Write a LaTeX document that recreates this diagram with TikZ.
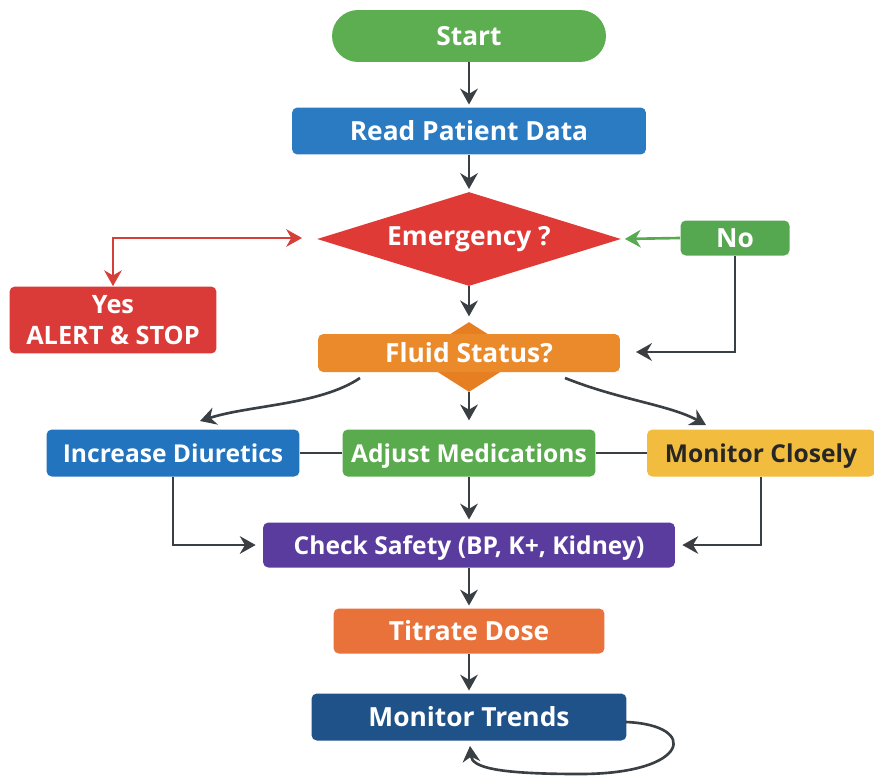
\documentclass[tikz,border=0pt]{standalone}
\usepackage{fontspec}
\setmainfont{Open Sans}
\usetikzlibrary{shapes.geometric,arrows.meta}

\definecolor{cstart}{RGB}{92,174,80}
\definecolor{cread}{RGB}{43,123,195}
\definecolor{cemerg}{RGB}{224,58,54}
\definecolor{cyes}{RGB}{219,59,56}
\definecolor{cno}{RGB}{86,168,80}
\definecolor{cfluid}{RGB}{235,138,42}
\definecolor{cfluidd}{RGB}{230,126,34}
\definecolor{cdiur}{RGB}{35,116,190}
\definecolor{cadjust}{RGB}{90,171,78}
\definecolor{cclose}{RGB}{242,188,62}
\definecolor{ccheck}{RGB}{90,60,158}
\definecolor{ctitr}{RGB}{233,113,58}
\definecolor{ctrend}{RGB}{30,82,137}
\definecolor{cline}{RGB}{58,63,68}
\definecolor{cred}{RGB}{214,62,56}
\definecolor{cgreen}{RGB}{88,170,80}

\tikzset{
  boxbase/.style={rectangle, rounded corners=3pt, text=white, inner sep=0pt,
    font=\bfseries\fontsize{15}{18}\selectfont, minimum height=0.94cm},
  box/.style={boxbase, text height=10.8pt, text depth=0.4pt},
  small/.style={font=\bfseries\fontsize{14}{17}\selectfont},
  arr/.style={-{Stealth[length=9pt,width=10pt]}, line width=1.5pt, draw=cline,
    shorten >=1.5pt},
  link/.style={line width=1.5pt, draw=cline}
}

\begin{document}
\begin{tikzpicture}[x=0.02cm,y=-0.02cm]
  \useasboundingbox (0,0) rectangle (874,777);

  \node (start)   [box, fill=cstart, rounded corners=0.52cm, minimum width=5.48cm,
                   minimum height=1.04cm] at (469,36) {Start};
  \node (read)    [box, fill=cread, minimum width=7.08cm] at (469,131) {Read Patient Data};
  \node (emerg)   [diamond, fill=cemerg, text=white, inner sep=1pt, aspect=3.2,
                   font=\bfseries\fontsize{15}{18}\selectfont,
                   minimum width=6.08cm, minimum height=1.88cm] at (469,239) {Emergency ?};
  \node (yes)     [boxbase, fill=cyes, align=center, minimum width=4.14cm,
                   font=\bfseries\fontsize{14.4}{17.5}\selectfont,
                   minimum height=1.34cm] at (113,320) {Yes\\ALERT \& STOP};
  \node (no)      [box, fill=cno, minimum width=2.18cm, minimum height=0.7cm] at (735,238) {No};

  \node (fluiddia) [diamond, fill=cfluidd, minimum width=2.2cm, minimum height=1.4cm] at (469,357) {};
  \node (fluid)   [box, fill=cfluid, minimum width=6.04cm, minimum height=0.76cm] at (469,353) {Fluid Status?};

  \node (diur)    [box, small, fill=cdiur, minimum width=5.06cm] at (173,453) {Increase Diuretics};
  \node (adjust)  [box, small, fill=cadjust, minimum width=5.06cm] at (469,453) {Adjust Medications};
  \node (closely) [box, small, fill=cclose, text=black!85, minimum width=4.56cm] at (761,453) {Monitor Closely};

  \node (check)   [box, small, fill=ccheck, minimum width=8.24cm, minimum height=0.9cm] at (469,545) {Check Safety (BP, K+, Kidney)};
  \node (titrate) [box, fill=ctitr, minimum width=5.42cm, minimum height=0.9cm] at (469,631) {Titrate Dose};
  \node (trends)  [box, fill=ctrend, minimum width=6.3cm] at (469,717) {Monitor Trends};

  \coordinate (yesin)   at (302,238);
  \coordinate (noin)    at (636,352);
  \coordinate (fanl)    at (360,378);
  \coordinate (fanlend) at (200,421);
  \coordinate (fanr)    at (565,378);
  \coordinate (fanrend) at (706,425);
  \coordinate (loopout) at (626,722);
  \coordinate (loopin)  at (470,746);

  %% -- edges
  %% main column
  \draw[arr] (start) -- (read);
  \draw[arr] (read) -- (emerg);
  \draw[arr, shorten >=3pt] (emerg.south) -- (fluiddia.north);
  %% emergency answers
  \draw[arr, draw=cred, shorten >=0pt, {Stealth[length=9pt,width=10pt]}-{Stealth[length=9pt,width=10pt]}]
       (yes.north) |- (yesin);
  \draw[arr, draw=cgreen, shorten >=2pt] (no.west) -- (emerg.east);
  \draw[arr, shorten >=0pt] (no.south) |- (noin);
  %% fluid status
  \draw[arr, shorten >=0pt] (fanl) .. controls (320,405) and (250,405) .. (fanlend);
  \draw[arr, shorten >=5pt] (fluiddia.south) -- (adjust.north);
  \draw[arr, shorten >=0pt] (fanr) .. controls (620,400) and (670,405) .. (fanrend);
  %% middle row
  \draw[link] (diur) -- (adjust);
  \draw[link] (adjust) -- (closely);
  \draw[arr] (adjust) -- (check);
  \draw[arr, shorten >=4pt] (diur.south) |- (check.west);
  \draw[arr, shorten >=4pt] (closely.south) |- (check.east);
  %% lower column
  \draw[arr] (check) -- (titrate);
  \draw[arr] (titrate) -- (trends);
  \draw[arr, shorten >=0pt] (loopout) .. controls (700,725) and (690,774) .. (580,774)
       .. controls (500,774) and (472,768) .. (loopin);

\end{tikzpicture}
\end{document}
